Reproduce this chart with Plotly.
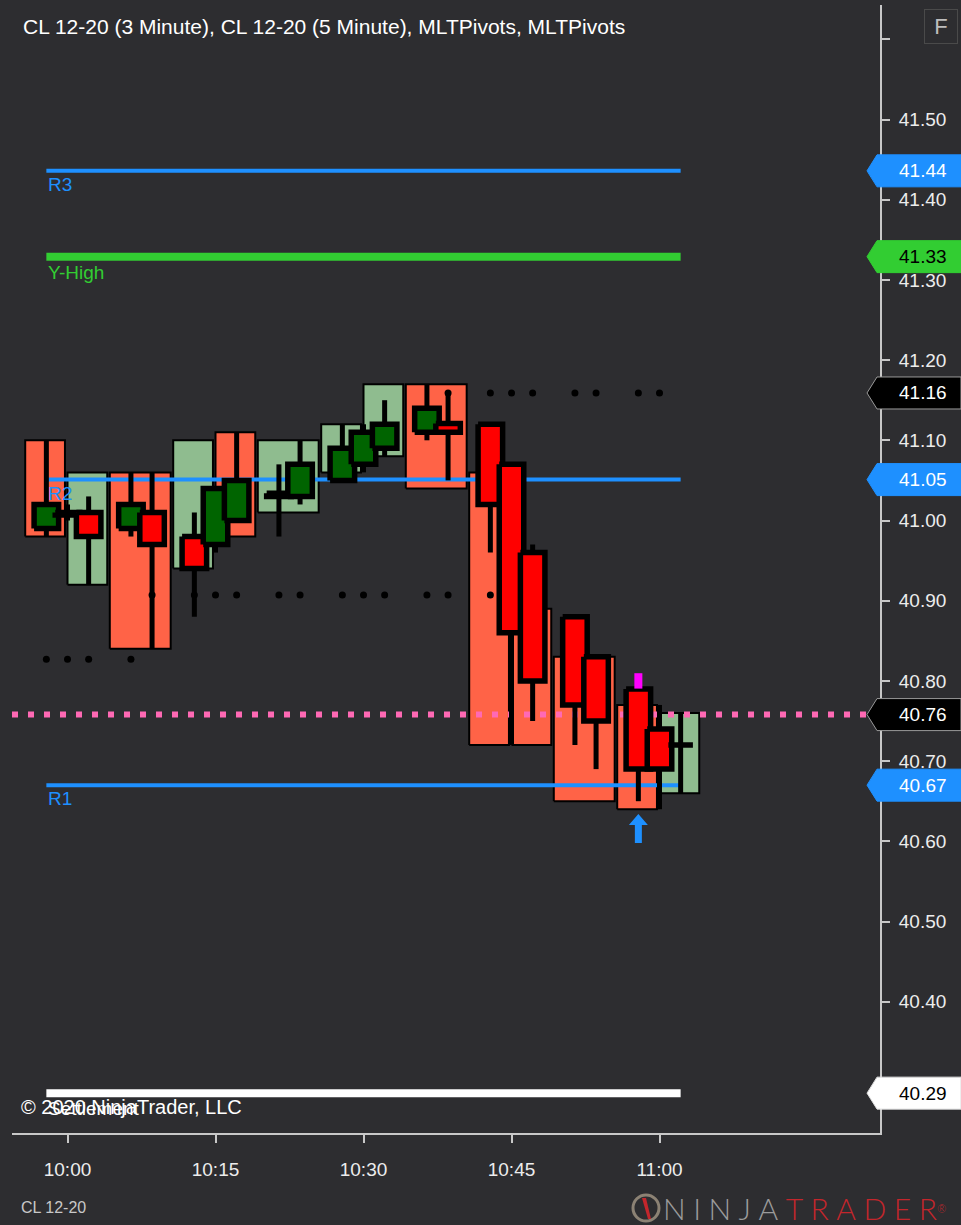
import plotly.graph_objects as go

# ---------------- data ----------------
# 3-minute bars (primary series), time stamp = bar close
times3 = ["09:57", "10:00", "10:03", "10:06", "10:09", "10:12", "10:15", "10:18", "10:21", "10:24",
          "10:27", "10:30", "10:33", "10:36", "10:39", "10:42", "10:45", "10:48", "10:51", "10:54",
          "10:57", "11:00", "11:03"]
open3 = [40.99, 41.01, 41.01, 40.99, 41.01, 40.98, 40.97, 41.00, 41.034, 41.03, 41.05, 41.07,
         41.09, 41.11, 41.121, 41.12, 41.07, 40.96, 40.88, 40.83, 40.79, 40.74, 40.72]
high3 = [41.10, 41.02, 41.03, 41.06, 41.06, 41.01, 41.04, 41.11, 41.07, 41.10, 41.12, 41.12,
         41.15, 41.17, 41.16, 41.12, 41.07, 40.97, 40.88, 40.83, 40.79, 40.77, 40.76]
low3 = [40.98, 41.00, 40.92, 40.98, 40.84, 40.88, 40.96, 41.00, 40.98, 41.02, 41.05, 41.06,
        41.08, 41.10, 41.05, 40.96, 40.72, 40.75, 40.72, 40.69, 40.65, 40.64, 40.66]
close3 = [41.02, 41.007, 40.98, 41.02, 40.97, 40.94, 41.04, 41.05, 41.03, 41.07, 41.09, 41.11,
          41.12, 41.14, 41.11, 41.02, 40.86, 40.80, 40.77, 40.75, 40.69, 40.69, 40.72]

# 5-minute bars (secondary series, box style), time stamp = bar close
times5 = ["10:00", "10:05", "10:10", "10:15", "10:20", "10:25", "10:30", "10:35", "10:40",
          "10:45", "10:50", "10:55", "11:00", "11:05"]
open5 = [41.10, 40.92, 41.06, 40.94, 41.11, 41.01, 41.06, 41.08, 41.17, 41.06, 40.89, 40.83, 40.77, 40.66]
close5 = [40.98, 41.06, 40.84, 41.10, 40.98, 41.10, 41.12, 41.17, 41.04, 40.72, 40.72, 40.65, 40.64, 40.76]

# MLTPivots levels
pivot_names = ["R3", "Y-High", "R2", "R1", "Settlement"]
pivot_values = [41.436, 41.329, 41.051, 40.670, 40.286]

# swing level dots
dots_low_times = ["09:57", "10:00", "10:03", "10:06"]
dots_low_value = 40.827
dots_mid_times = ["10:09", "10:12", "10:15", "10:18", "10:21", "10:24", "10:27", "10:30",
                  "10:33", "10:36", "10:39", "10:42"]
dots_mid_value = 40.907
dots_high_times = ["10:39", "10:42", "10:45", "10:48", "10:51", "10:54", "10:57", "11:00"]
dots_high_value = 41.159

# horizontal line, signal markers
hline_value = 40.758
signal_time = "10:57"
signal_arrow_value = 40.634
signal_mark_value = 40.80

# price markers on the axis
tag_values = [41.436, 41.329, 41.159, 41.051, 40.758, 40.670, 40.286]

# axis ticks
x_tick_times = ["10:00", "10:15", "10:30", "10:45", "11:00"]
y_tick_values = [41.5, 41.4, 41.3, 41.2, 41.1, 41.0, 40.9, 40.8, 40.7, 40.6, 40.5, 40.4]
y_tick_labels = ["41.50", "41.40", "41.30", "41.20", "41.10", "41.00", "40.90", "40.80",
                 "40.70", "40.60", "40.50", "40.40"]
y_unlabelled_ticks = [41.6, 40.3]

# ---------------- styles ----------------
BG = "#2d2d30"
AXIS = "#c8c8c8"
TXT = "#ececec"
FONT = "Liberation Sans, Arial, sans-serif"
BLUE = "#1e90ff"
GREENL = "#32cd32"
UP3, DN3 = "#006400", "#ff0000"
UP5, DN5 = "#8fbc8f", "#ff6347"
pivot_style = {"R3": (BLUE, 4), "Y-High": (GREENL, 8), "R2": (BLUE, 4), "R1": (BLUE, 4),
               "Settlement": ("#ffffff", 8)}
tag_style = [(BLUE, "white", BLUE), (GREENL, "black", GREENL), ("black", "white", "#9a9a9a"),
             (BLUE, "white", BLUE), ("black", "white", "#9a9a9a"), (BLUE, "white", BLUE),
             ("white", "black", "#dddddd")]


def tmin(t):
    h, m = t.split(":")
    return int(h) * 60 + int(m)


def tstr(m):
    return f"{m // 60:02d}:{m % 60:02d}"


# equidistant slots over the merged time stamps of both series
starts5 = [tstr(tmin(t) - 5) for t in times5]
slots = sorted(set(times3) | set(times5) | set(starts5), key=tmin)
X = {t: i for i, t in enumerate(slots)}
x_zero = X["10:00"]

W, H = 961, 1225
ML, MR, MT, MB = 12, 81, 5, 92
PW, PH = W - ML - MR, H - MT - MB
slot_px = 148.0 / 7
zero_px = 67.5
xr = [x_zero + (ML - zero_px) / slot_px, x_zero + (ML + PW - zero_px) / slot_px]
ppu = 802.0
y41 = 520.5
yr = [41.0 - (MT + PH - y41) / ppu, 41.0 + (y41 - MT) / ppu]


def paper_x(px):
    return (px - ML) / PW


def paper_y(py):
    return (MT + PH - py) / PH


fig = go.Figure()

# 5-minute boxes
for col, want_up in ((UP5, True), (DN5, False)):
    xs, ys = [], []
    for s, e, o, c in zip(starts5, times5, open5, close5):
        if (c > o) != want_up:
            continue
        a, b = X[s], X[e] - 0.12
        lo, hi = min(o, c), max(o, c)
        xs += [a, b, b, a, a, None]
        ys += [lo, lo, hi, hi, lo, None]
    fig.add_trace(go.Scatter(x=xs, y=ys, mode="lines", fill="toself", fillcolor=col,
                             line=dict(color="black", width=2), hoverinfo="skip"))

# pivot lines
first3, last3 = X[times3[0]], X[times3[-1]]
for name, val in zip(pivot_names, pivot_values):
    col, lw = pivot_style[name]
    fig.add_trace(go.Scatter(x=[first3, last3], y=[val, val], mode="lines",
                             line=dict(color=col, width=lw), hoverinfo="skip"))

# pink dotted horizontal line
fig.add_trace(go.Scatter(x=[xr[0], xr[1]], y=[hline_value, hline_value], mode="lines",
                         line=dict(color="#ff69b4", width=6, dash="6px,10px"), hoverinfo="skip"))

# swing dots
for tl, v in ((dots_low_times, dots_low_value), (dots_mid_times, dots_mid_value),
              (dots_high_times, dots_high_value)):
    fig.add_trace(go.Scatter(x=[X[t] for t in tl], y=[v] * len(tl), mode="markers",
                             marker=dict(color="black", size=7), hoverinfo="skip"))

# 3-minute candles
hw = 0.58
for t, o, h, l, c in zip(times3, open3, high3, low3, close3):
    x = X[t]
    fig.add_trace(go.Scatter(x=[x, x], y=[l, h], mode="lines",
                             line=dict(color="black", width=5), hoverinfo="skip"))
    col = UP3 if c > o else DN3
    fig.add_trace(go.Scatter(x=[x - hw, x + hw, x + hw, x - hw, x - hw], y=[o, o, c, c, o],
                             mode="lines", fill="toself", fillcolor=col,
                             line=dict(color="black", width=5.5), hoverinfo="skip"))

# signal marker (magenta)
fig.add_trace(go.Scatter(x=[X[signal_time]], y=[signal_mark_value], mode="markers",
                         marker=dict(symbol="line-ns", size=11, line=dict(color="#ff00ff", width=8)),
                         hoverinfo="skip"))

shapes = []
annotations = []

# signal arrow
shapes.append(dict(type="path", xref="x", yref="y", xsizemode="pixel", ysizemode="pixel",
                   xanchor=X[signal_time], yanchor=signal_arrow_value,
                   path="M 0,0 L -9.5,-11 L -3.5,-11 L -3.5,-29 L 3.5,-29 L 3.5,-11 L 9.5,-11 Z",
                   fillcolor=BLUE, line=dict(width=0), layer="above"))

# pivot labels
for name, val in zip(pivot_names, pivot_values):
    col, lw = pivot_style[name]
    annotations.append(dict(x=first3, y=val, xref="x", yref="y", text=name, showarrow=False,
                            xanchor="left", yanchor="top", yshift=-(lw / 2) + 1,
                            font=dict(family=FONT, size=19, color=col)))

# axis price tags
for v, (bg, fg, ol) in zip(tag_values, tag_style):
    shapes.append(dict(type="path", xref="paper", yref="y", xsizemode="pixel", ysizemode="pixel",
                       xanchor=1, yanchor=v,
                       path="M -13,0 L -3,16 L 81,16 L 81,-16 L -3,-16 Z",
                       fillcolor=bg, line=dict(color=ol, width=1), layer="above"))
    annotations.append(dict(x=1, y=v, xref="paper", yref="y", xshift=17, text=f"{v:.2f}",
                            showarrow=False, xanchor="left", yanchor="middle",
                            font=dict(family=FONT, size=19, color=fg)))

# title and furniture
annotations.append(dict(x=paper_x(21), y=paper_y(27), xref="paper", yref="paper",
                        text="CL 12-20 (3 Minute), CL 12-20 (5 Minute), MLTPivots, MLTPivots",
                        showarrow=False, xanchor="left", yanchor="middle",
                        font=dict(family=FONT, size=21, color="white")))
annotations.append(dict(x=paper_x(941), y=paper_y(27), xref="paper", yref="paper", text="F",
                        showarrow=False, xanchor="center", yanchor="middle", width=30, height=31,
                        bordercolor="#4a4a4a", borderwidth=1, bgcolor=BG,
                        font=dict(family=FONT, size=22, color="#bdbdbd")))
annotations.append(dict(x=paper_x(19), y=paper_y(1107), xref="paper", yref="paper",
                        text="© 2020 NinjaTrader, LLC", showarrow=False, xanchor="left",
                        yanchor="middle", font=dict(family=FONT, size=20, color="white")))
annotations.append(dict(x=paper_x(19), y=paper_y(1207), xref="paper", yref="paper",
                        text="CL 12-20", showarrow=False, xanchor="left", yanchor="middle",
                        font=dict(family=FONT, size=16, color="#c8c8c8")))
sp = "\u2009\u2009"
annotations.append(dict(x=paper_x(661), y=paper_y(1208), xref="paper", yref="paper",
                        text=("<span style='color:#9b9b9b'>" + sp.join("NINJA") + sp + "</span>"
                              "<span style='color:#c3262c'>" + sp.join("TRADER") + "</span>"
                              "<span style='color:#c3262c;font-size:16px'><sup>®</sup></span>"),
                        showarrow=False, xanchor="left", yanchor="middle",
                        font=dict(family="Lato, " + FONT, size=30, weight=300)))
# logo emblem
shapes.append(dict(type="circle", xref="paper", yref="paper",
                   x0=paper_x(633), x1=paper_x(659), y0=paper_y(1221), y1=paper_y(1195),
                   line=dict(color="#8c8274", width=3), fillcolor=BG, layer="above"))
shapes.append(dict(type="path", xref="paper", yref="paper", xsizemode="pixel", ysizemode="pixel",
                   xanchor=paper_x(646), yanchor=paper_y(1208),
                   path="M -4,10 L 2,-11 L 5,-11 L 0,10 Z", fillcolor="#c3262c",
                   line=dict(width=0), layer="above"))

fig.update_layout(
    width=W, height=H, autosize=False,
    margin=dict(l=ML, r=MR, t=MT, b=MB, pad=0),
    paper_bgcolor=BG, plot_bgcolor=BG,
    showlegend=False, hovermode=False,
    shapes=shapes, annotations=annotations,
    xaxis=dict(range=xr, showgrid=False, zeroline=False, showline=True, linecolor=AXIS, linewidth=2,
               ticks="outside", ticklen=8, tickwidth=1.5, tickcolor=AXIS,
               tickvals=[X[t] for t in x_tick_times], ticktext=x_tick_times,
               ticklabelstandoff=10,
               tickfont=dict(family=FONT, size=19, color=TXT), fixedrange=True),
    yaxis=dict(range=yr, side="right", showgrid=False, zeroline=False, showline=True,
               linecolor=AXIS, linewidth=2, ticks="outside", ticklen=8, tickwidth=1.5,
               tickcolor=AXIS, tickvals=y_tick_values, ticktext=y_tick_labels,
               ticklabelstandoff=5,
               minor=dict(tickmode="array", tickvals=y_unlabelled_ticks, ticks="outside",
                          ticklen=8, tickwidth=1.5, tickcolor=AXIS, showgrid=False),
               tickfont=dict(family=FONT, size=19, color=TXT), fixedrange=True),
)

fig.write_html("out.html", config={"displayModeBar": False},
               post_script="document.body.style.margin='0px';")
